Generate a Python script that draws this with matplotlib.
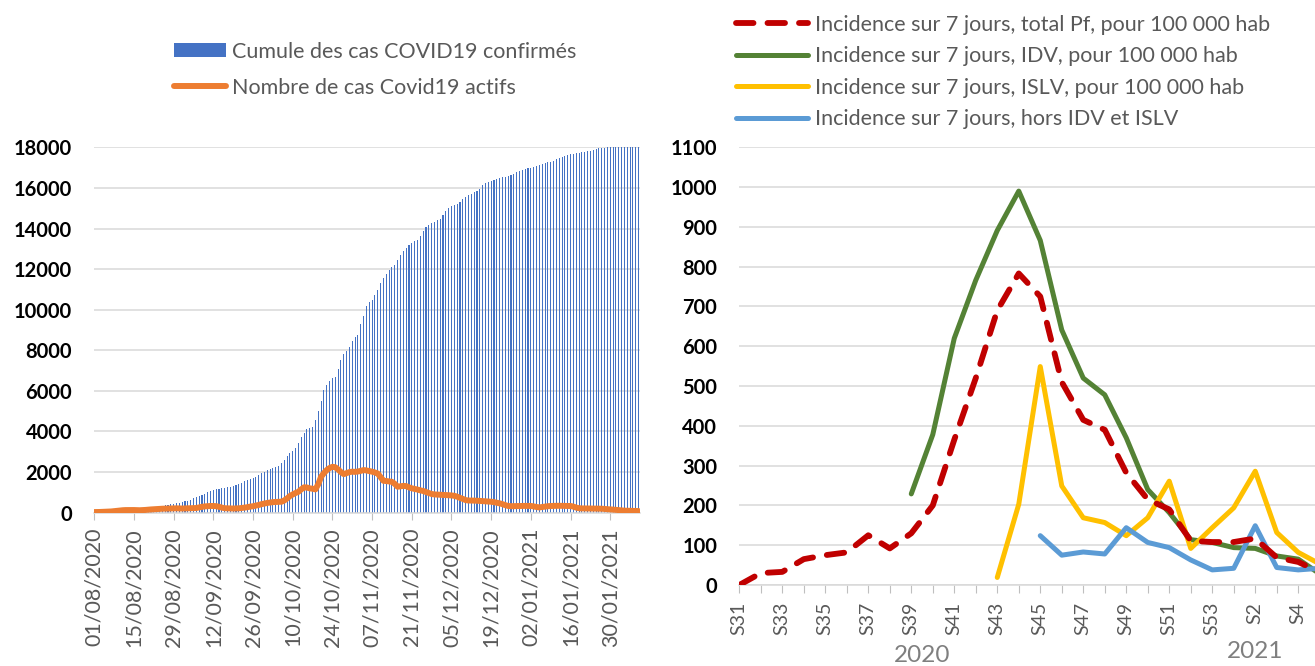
import matplotlib.pyplot as plt
import matplotlib.transforms as mtransforms
import numpy as np
import pandas as pd

plt.rcParams["font.family"] = ["Lato", "DejaVu Sans"]

# ---- left panel: daily counts from 01/08/2020 -------------------------------
START_DATE = "2020-08-01"

CUMUL_CONFIRMES = [
    20, 25, 32, 40, 48, 55, 64,
    72, 80, 90, 100, 112, 125, 138,
    150, 165, 180, 198, 215, 235, 252,
    270, 292, 315, 338, 360, 385, 410,
    435, 462, 490, 520, 555, 590, 625,
    720, 770, 820, 880, 940, 1000, 1050,
    1110, 1150, 1180, 1200, 1220, 1250, 1280,
    1320, 1370, 1420, 1480, 1540, 1600, 1660,
    1700, 1780, 1860, 1940, 2010, 2080, 2140,
    2190, 2250, 2320, 2450, 2620, 2800, 2950,
    3060, 3200, 3450, 3750, 3950, 4120, 4190,
    4240, 4560, 5000, 5520, 6020, 6300, 6500,
    6620, 6700, 7100, 7500, 7800, 7950, 8180,
    8450, 8650, 8750, 9300, 9700, 10200, 10400,
    10500, 10700, 10950, 11300, 11550, 11750, 11950,
    12100, 12200, 12450, 12700, 12900, 13050, 13180,
    13300, 13380, 13450, 13650, 13900, 14050, 14150,
    14250, 14330, 14400, 14480, 14650, 14850, 15000,
    15100, 15150, 15200, 15300, 15450, 15550, 15650,
    15720, 15800, 15850, 15950, 16150, 16250, 16300,
    16330, 16380, 16430, 16480, 16520, 16550, 16600,
    16650, 16700, 16800, 16850, 16900, 16950, 16980,
    17000, 17020, 17080, 17150, 17200, 17240, 17270,
    17300, 17350, 17420, 17480, 17520, 17580, 17620,
    17650, 17680, 17700, 17740, 17770, 17790, 17810,
    17840, 17870, 17900, 17950, 17970, 17990, 18000,
    18010, 18020, 18030, 18040, 18050, 18055, 18060,
    18065, 18070, 18075, 18080,
]

CAS_ACTIFS = [
    30, 30, 35, 40, 45, 50, 60,
    75, 90, 105, 120, 128, 130, 130,
    130, 125, 120, 125, 135, 150, 160,
    170, 180, 185, 195, 200, 205, 210,
    210, 215, 210, 205, 210, 215, 220,
    220, 230, 260, 290, 310, 320, 330,
    330, 320, 290, 250, 220, 215, 210,
    205, 210, 215, 230, 250, 270, 300,
    320, 350, 380, 420, 450, 480, 500,
    520, 530, 535, 540, 600, 700, 820,
    900, 970, 1030, 1150, 1250, 1240, 1200,
    1180, 1150, 1400, 1770, 1950, 2100, 2200,
    2260, 2240, 2130, 2000, 1900, 1950, 2000,
    2020, 2010, 2030, 2060, 2100, 2080, 2050,
    2020, 1980, 1930, 1750, 1570, 1560, 1540,
    1520, 1420, 1280, 1300, 1320, 1310, 1250,
    1200, 1170, 1140, 1100, 1070, 1020, 970,
    920, 900, 890, 880, 875, 870, 860,
    850, 830, 790, 730, 680, 620, 600,
    600, 595, 590, 580, 570, 560, 550,
    540, 520, 490, 460, 420, 370, 330,
    320, 320, 325, 330, 335, 335, 330,
    330, 310, 280, 260, 280, 300, 320,
    330, 335, 340, 340, 335, 335, 330,
    330, 300, 250, 220, 210, 210, 205,
    205, 200, 200, 200, 195, 185, 170,
    160, 150, 140, 125, 110, 100, 95,
    90, 85, 82, 80,
]

# ---- right panel: weekly incidence per 100 000 inhabitants -----------------
SEMAINES = [f"S{w}" for w in range(31, 54)] + ["S1", "S2", "S3", "S4", "S5"]

INC_TOTAL = [0, 30, 33, 65, 75, 82, 125, 92, 130, 200, 365, 520, 690, 783,
             725, 510, 415, 390, 282, 215, 190, 111, 108, 108, 117, 69, 58, 32]
INC_IDV = [None] * 8 + [229, 378, 620, 766, 891, 990, 866, 641, 520, 478,
                        370, 240, 182, 114, 107, 94, 92, 73, 65, 28]
INC_ISLV = [None] * 12 + [19, 203, 549, 249, 169, 157, 124, 169, 261, 92,
                          144, 194, 286, 132, 82, 53]
INC_HORS = [None] * 14 + [124, 75, 83, 78, 144, 107, 94, 63, 38, 42, 149,
                          44, 38, 42]

GRID = "#D9D9D9"
TICK_GREY = "#595959"

fig = plt.figure(figsize=(13.15, 6.66), dpi=100)

# ---------------------------------------------------------------- left
axL = fig.add_axes([0.0717, 0.2302, 0.415, 0.5486])
days = np.arange(len(CUMUL_CONFIRMES))
dates = pd.date_range(START_DATE, periods=len(days), freq="D")

bars = axL.bar(days, CUMUL_CONFIRMES, width=0.38, color="#4472C4", linewidth=0,
               label="Cumule des cas COVID19 confirmés", zorder=2)
line_actifs, = axL.plot(days, CAS_ACTIFS, color="#ED7D31", lw=4.3,
                        solid_capstyle="round", solid_joinstyle="round",
                        label="Nombre de cas Covid19 actifs", zorder=3)

axL.set_xlim(0, 192.5)
axL.set_ylim(0, 18000)
yt = np.arange(0, 18001, 2000)
axL.set_yticks(yt, labels=[str(v) for v in yt], fontsize=14.5, fontweight="bold")
xt = days[::14]
axL.set_xticks(xt, labels=[d.strftime("%d/%m/%Y") for d in dates[::14]],
               rotation=90)
axL.tick_params(axis="y", length=0, pad=16)
axL.tick_params(axis="x", length=5, color="#BFBFBF", labelsize=15.5,
                labelcolor=TICK_GREY, pad=6)

# ---------------------------------------------------------------- right
axR = fig.add_axes([0.5622, 0.1216, 0.4414, 0.6572])
wk = np.arange(len(SEMAINES))
axR.plot(wk, np.array(INC_TOTAL, dtype=float), color="#C00000", lw=4.2,
         linestyle=(0, (3.0, 2.4)), dash_capstyle="round",
         label="Incidence sur 7 jours, total Pf, pour 100 000 hab", zorder=3)
axR.plot(wk, np.array(INC_IDV, dtype=float), color="#548235", lw=3.6,
         solid_capstyle="round", label="Incidence sur 7 jours, IDV, pour 100 000 hab")
axR.plot(wk, np.array(INC_ISLV, dtype=float), color="#FFC000", lw=3.6,
         solid_capstyle="round", label="Incidence sur 7 jours, ISLV, pour 100 000 hab")
axR.plot(wk, np.array(INC_HORS, dtype=float), color="#5B9BD5", lw=3.6,
         solid_capstyle="round", label="Incidence sur 7 jours, hors IDV et ISLV")

axR.set_xlim(0, 27)
axR.set_ylim(0, 1100)
yt = np.arange(0, 1101, 100)
axR.set_yticks(yt, labels=[str(v) for v in yt], fontsize=14.5, fontweight="bold")
axR.set_xticks(wk, labels=[s if i % 2 == 0 else "" for i, s in enumerate(SEMAINES)],
               rotation=90)
axR.tick_params(axis="y", length=0, pad=16)
axR.tick_params(axis="x", length=6, color="#BFBFBF", labelsize=14,
                labelcolor=TICK_GREY, pad=6)

trans = mtransforms.blended_transform_factory(axR.transData, fig.transFigure)
axR.text(8.5, 1 - 656 / 666, "2020", transform=trans, ha="center", va="center",
         fontsize=17.5, color="#7F7F7F")
axR.text(24.0, 1 - 651 / 666, "2021", transform=trans, ha="center", va="center",
         fontsize=17.5, color="#7F7F7F")

for ax in (axL, axR):
    for side in ("top", "right", "left"):
        ax.spines[side].set_visible(False)
    ax.spines["bottom"].set_color(GRID)
    ax.spines["bottom"].set_linewidth(1.1)
    ax.yaxis.grid(True, color=GRID, lw=1.1)
    ax.set_axisbelow(True)

fig.legend([bars, line_actifs],
           ["Cumule des cas COVID19 confirmés", "Nombre de cas Covid19 actifs"],
           loc="upper left", bbox_to_anchor=(174 / 1315, 1 - 41.5 / 666),
           frameon=False, fontsize=15.5, borderpad=0, borderaxespad=0,
           handlelength=2.4, handleheight=0.62, handletextpad=0.3,
           labelspacing=0.75, labelcolor=TICK_GREY)
fig.legend(*axR.get_legend_handles_labels(), loc="upper left",
           bbox_to_anchor=(736 / 1315, 1 - 15 / 666), frameon=False,
           fontsize=15.5, borderpad=0, borderaxespad=0, handlelength=3.35,
           handletextpad=0.3, labelspacing=0.53, labelcolor=TICK_GREY)

fig.savefig("out.png", dpi=100)
